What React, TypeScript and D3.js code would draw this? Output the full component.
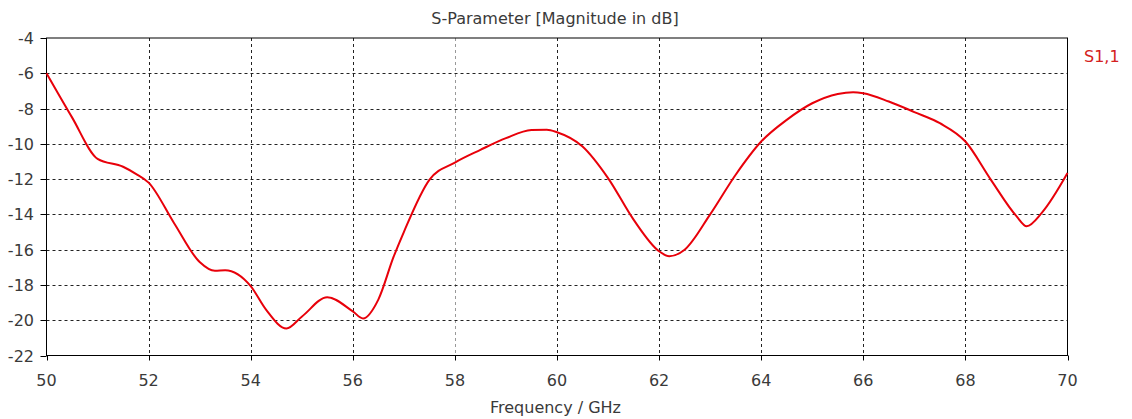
import React from "react";
import * as d3 from "d3";

const freqs = [50, 50.5, 51, 51.5, 51.75, 52, 52.5, 53, 53.3, 53.5, 54, 54.3, 54.7, 55, 55.5, 56, 56.2, 56.5, 56.8, 57, 57.5, 58, 58.5, 59, 59.5, 59.8, 60, 60.5, 61, 61.5, 62, 62.2, 62.5, 63, 63.5, 64, 64.5, 65, 65.5, 65.8, 66, 66.5, 67, 67.5, 68, 68.5, 69, 69.2, 69.5, 70];
const s11 = [-6.0, -8.5, -10.85, -11.3, -11.7, -12.2, -14.5, -16.7, -17.2, -17.17, -18.07, -19.4, -20.47, -19.8, -18.7, -19.5, -19.9, -18.83, -16.4, -15.0, -12.04, -11.06, -10.34, -9.68, -9.22, -9.2, -9.34, -10.15, -11.94, -14.3, -16.09, -16.37, -16.0, -14.0, -11.75, -9.87, -8.64, -7.7, -7.17, -7.07, -7.13, -7.6, -8.2, -8.83, -9.87, -12.04, -14.1, -14.67, -13.9, -11.66];
const xTicks = [50, 52, 54, 56, 58, 60, 62, 64, 66, 68, 70];
const yTicks = [-4, -6, -8, -10, -12, -14, -16, -18, -20, -22];
const title = "S-Parameter [Magnitude in dB]";
const xTitle = "Frequency / GHz";
const seriesName = "S1,1";

export default function App() {
  const W = 1132, H = 419;
  const left = 46.5, right = 1067.5, top = 38, bottom = 355.5;
  const x = d3.scaleLinear().domain([50, 70]).range([left, right]);
  const y = d3.scaleLinear().domain([-22, -4]).range([bottom, top]);
  const pts: [number, number][] = freqs.map((f, i) => [f, s11[i]]);
  const line = d3.line<[number, number]>().x(d => x(d[0])).y(d => y(d[1])).curve(d3.curveMonotoneX);
  const font = "'DejaVu Sans', Verdana, sans-serif";
  const fs = 16;
  const tc = "#3a3a3a";
  return (
    <svg width={W} height={H} style={{ position: "absolute", left: 0, top: 0, background: "#fff" }}>
      <text x={555} y={24} textAnchor="middle" fontFamily={font} fontSize={fs} fill={tc}>{title}</text>
      {xTicks.slice(1, -1).map(t => (
        <line key={"gx" + t} x1={Math.round(x(t)) + 0.5} x2={Math.round(x(t)) + 0.5} y1={top} y2={bottom}
          stroke={t === 58 ? "#999" : "#222"} strokeWidth={1} strokeDasharray="3,3" />
      ))}
      {yTicks.slice(1, -1).map(t => (
        <line key={"gy" + t} x1={left} x2={right} y1={Math.round(y(t)) + 0.5} y2={Math.round(y(t)) + 0.5}
          stroke="#222" strokeWidth={1} strokeDasharray="3,3" />
      ))}
      <rect x={left} y={top} width={right - left} height={bottom - top} fill="none" stroke="#000" strokeWidth={1} />
      {xTicks.map(t => (
        <g key={"tx" + t}>
          <line x1={Math.round(x(t)) + 0.5} x2={Math.round(x(t)) + 0.5} y1={bottom} y2={bottom + 5} stroke="#000" />
          <text x={x(t)} y={386} textAnchor="middle" fontFamily={font} fontSize={fs} fill={tc}>{t}</text>
        </g>
      ))}
      {yTicks.map(t => (
        <g key={"ty" + t}>
          <line x1={left - 6} x2={left} y1={Math.round(y(t)) + 0.5} y2={Math.round(y(t)) + 0.5} stroke="#000" />
          <text x={34} y={y(t) + 6} textAnchor="end" fontFamily={font} fontSize={fs} fill={tc}>{t}</text>
        </g>
      ))}
      <path d={line(pts) || ""} fill="none" stroke="#e8000a" strokeWidth={2} />
      <text x={1084} y={62} fontFamily={font} fontSize={fs} fill="#d42020">{seriesName}</text>
      <text x={555.5} y={413} textAnchor="middle" fontFamily={font} fontSize={fs} fill={tc}>{xTitle}</text>
    </svg>
  );
}
